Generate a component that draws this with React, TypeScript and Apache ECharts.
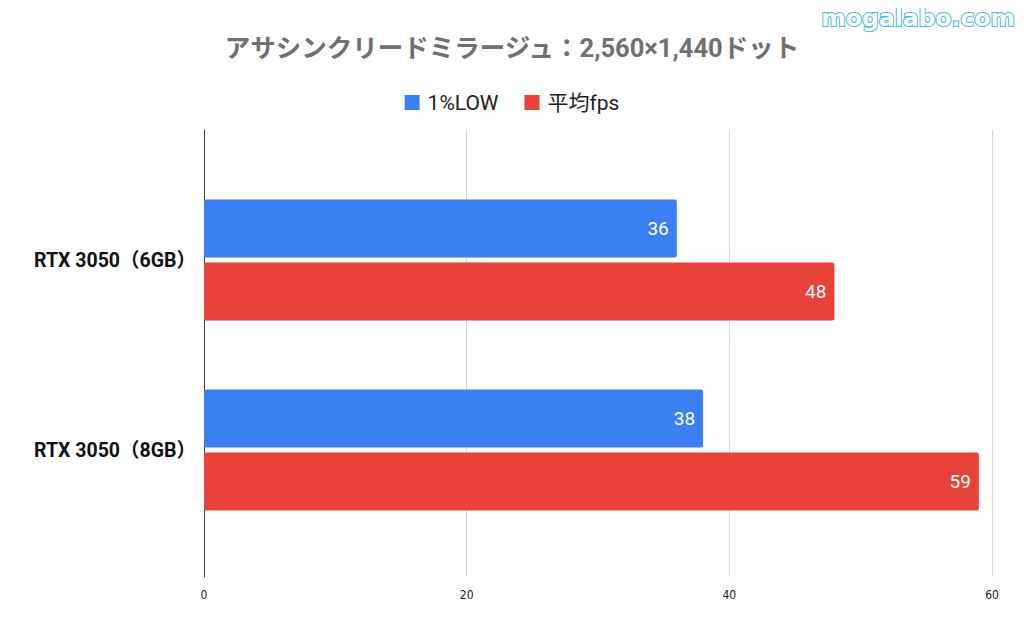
import React, { useEffect, useRef } from "react";
import * as echarts from "echarts";

const titleText = "アサシンクリードミラージュ：2,560×1,440ドット";
const categories = ["RTX 3050（6GB）", "RTX 3050（8GB）"];
const lowValues = [36, 38];
const avgValues = [48, 59];
const seriesNames = ["1%LOW", "平均fps"];
const xTicks = { min: 0, max: 60, interval: 20 };

const BLUE = "#3a80f2";
const RED = "#e8433a";
const FONT = "Roboto, 'Noto Sans CJK JP', sans-serif";

export default function App() {
  const ref = useRef<HTMLDivElement>(null);
  useEffect(() => {
    if (!ref.current) return;
    const chart = echarts.init(ref.current, undefined, { renderer: "svg" });
    chart.setOption({
      animation: false,
      backgroundColor: "#ffffff",
      textStyle: { fontFamily: FONT },
      title: {
        text: titleText,
        left: "center",
        top: 30,
        textStyle: { fontSize: 25.5, fontWeight: "bold", color: "#707070", fontFamily: FONT },
      },
      legend: {
        data: seriesNames,
        left: "center",
        top: 87,
        itemWidth: 15,
        itemHeight: 15,
        itemGap: 26,
        icon: "rect",
        textStyle: { fontSize: 21, color: "#222", fontFamily: FONT, padding: [0, 0, 0, 3] },
      },
      graphic: [
        {
          type: "text",
          right: 8,
          top: 5,
          style: {
            text: "mogalabo.com",
            fontSize: 23.5,
            fontWeight: "bold",
            fontFamily: "'DejaVu Sans', sans-serif",
            fill: "#ffffff",
            stroke: "#45b8e8",
            lineWidth: 2,
          },
        },
      ],
      grid: [
        { left: 204, right: 32, top: 130, bottom: 57 },
        { left: 204, right: 32, top: 165, bottom: 89 },
      ],
      xAxis: [
        {
          type: "value",
          gridIndex: 0,
          min: xTicks.min,
          max: xTicks.max,
          interval: xTicks.interval,
          axisLine: { show: false },
          axisTick: { show: false },
          splitLine: { show: true, lineStyle: { color: "#dadada", width: 1 } },
          axisLabel: {
            fontSize: 12,
            color: "#222",
            margin: 12,
            fontFamily: "'DejaVu Sans Condensed', 'DejaVu Sans', sans-serif",
          },
        },
        {
          type: "value",
          gridIndex: 1,
          min: xTicks.min,
          max: xTicks.max,
          interval: xTicks.interval,
          show: false,
        },
      ],
      yAxis: [
        {
          type: "category",
          gridIndex: 0,
          data: categories,
          inverse: true,
          axisLine: { show: true, lineStyle: { color: "#444", width: 1 } },
          axisTick: { show: false },
          axisLabel: { show: false },
          splitLine: { show: false },
        },
        {
          type: "category",
          gridIndex: 1,
          data: categories,
          inverse: true,
          axisLine: { show: false },
          axisTick: { show: false },
          axisLabel: {
            fontSize: 19.5,
            fontWeight: "bold",
            color: "#111",
            margin: 8,
            fontFamily: FONT,
          },
        },
      ],
      series: [
        {
          name: seriesNames[0],
          type: "bar",
          xAxisIndex: 1,
          yAxisIndex: 1,
          data: lowValues,
          barWidth: 58,
          barGap: "9%",
          itemStyle: { color: BLUE, borderRadius: 2 },
          label: {
            show: true,
            position: "insideRight",
            distance: 8,
            color: "#fff",
            fontSize: 19,
            fontFamily: FONT,
          },
        },
        {
          name: seriesNames[1],
          type: "bar",
          xAxisIndex: 1,
          yAxisIndex: 1,
          data: avgValues,
          barWidth: 58,
          barGap: "9%",
          itemStyle: { color: RED, borderRadius: 2 },
          label: {
            show: true,
            position: "insideRight",
            distance: 8,
            color: "#fff",
            fontSize: 19,
            fontFamily: FONT,
          },
        },
      ],
    });
    return () => chart.dispose();
  }, []);
  return <div ref={ref} style={{ width: 1024, height: 634, margin: -8 }} />;
}
